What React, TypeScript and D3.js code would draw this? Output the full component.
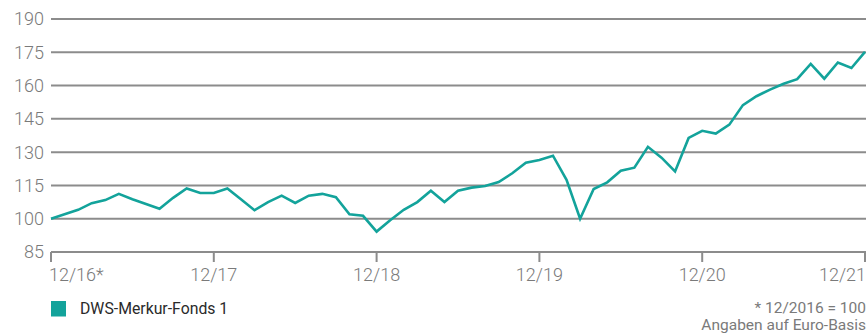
import React from "react";
import * as d3 from "d3";

const values: number[] = [
  100, 102, 104, 107, 108.4, 111.2, 108.8, 106.6, 104.5, 109.4, 113.6, 111.6,
  111.6, 113.6, 108.8, 103.8, 107.5, 110.4, 107.1, 110.4, 111.2, 109.7, 102, 101.3,
  94.2, 99.3, 104, 107.5, 112.6, 107.5, 112.6, 114, 114.7, 116.5, 120.5, 125.2,
  126.5, 128.4, 117.5, 100, 113.4, 116.4, 121.6, 123, 132.4, 127.5, 121.3, 136.4,
  139.6, 138.4, 142.4, 151.2, 155.2, 158.2, 160.8, 162.9, 169.8, 163.1, 170.4, 167.9,
  175.2,
];

const yTicks: number[] = [85, 100, 115, 130, 145, 160, 175, 190];
const xTickIdx: number[] = [0, 12, 24, 36, 48, 60];
const xTickLabels: string[] = ["12/16*", "12/17", "12/18", "12/19", "12/20", "12/21"];
const seriesName = "DWS-Merkur-Fonds 1";
const noteLines: string[] = ["* 12/2016 = 100", "Angaben auf Euro-Basis"];

const W = 866;
const H = 333;
const TEAL = "#13a39b";
const GRID = "#8c8c8c";
const TXT = "#7a7a7a";
const FONT = "Roboto, 'Noto Sans', sans-serif";

export default function App() {
  const x = d3.scaleLinear().domain([0, values.length - 1]).range([51, 865]);
  const y = d3.scaleLinear().domain([85, 190]).range([252, 19]);
  const line = d3
    .line<number>()
    .x((_, i) => x(i))
    .y((d) => y(d))
    .curve(d3.curveLinear);

  return (
    <svg
      width={W}
      height={H}
      style={{ position: "absolute", left: 0, top: 0, background: "#fff" }}
      fontFamily={FONT}
    >
      {yTicks.map((t) => (
        <g key={t}>
          <line x1={51} x2={866} y1={y(t)} y2={y(t)} stroke={GRID} strokeWidth={2} />
          <text
            x={44}
            y={y(t)}
            dy="0.36em"
            textAnchor="end"
            fontSize={18}
            fontWeight={300}
            fill={TXT}
          >
            {t}
          </text>
        </g>
      ))}
      {xTickIdx.map((ti, k) => (
        <g key={ti}>
          <line
            x1={x(ti)}
            x2={x(ti)}
            y1={y(85)}
            y2={y(85) + 10}
            stroke={GRID}
            strokeWidth={2}
          />
          <text
            x={k === 0 ? x(ti) - 2 : k === xTickIdx.length - 1 ? 866 : x(ti)}
            y={281}
            textAnchor={k === 0 ? "start" : k === xTickIdx.length - 1 ? "end" : "middle"}
            fontSize={18}
            fontWeight={300}
            fill={TXT}
          >
            {xTickLabels[k]}
          </text>
        </g>
      ))}
      <path
        d={line(values) || ""}
        fill="none"
        stroke={TEAL}
        strokeWidth={2.6}
        strokeLinejoin="miter"
      />
      <rect x={51} y={301} width={15} height={15.5} fill={TEAL} />
      <text x={80} y={314} fontSize={15.8} fill="#2a2a2a">
        {seriesName}
      </text>
      <text x={866} y={313} textAnchor="end" fontSize={15.5} fill={TXT}>
        {noteLines[0]}
      </text>
      <text x={866} y={329.5} textAnchor="end" fontSize={15.5} fill={TXT}>
        {noteLines[1]}
      </text>
    </svg>
  );
}
